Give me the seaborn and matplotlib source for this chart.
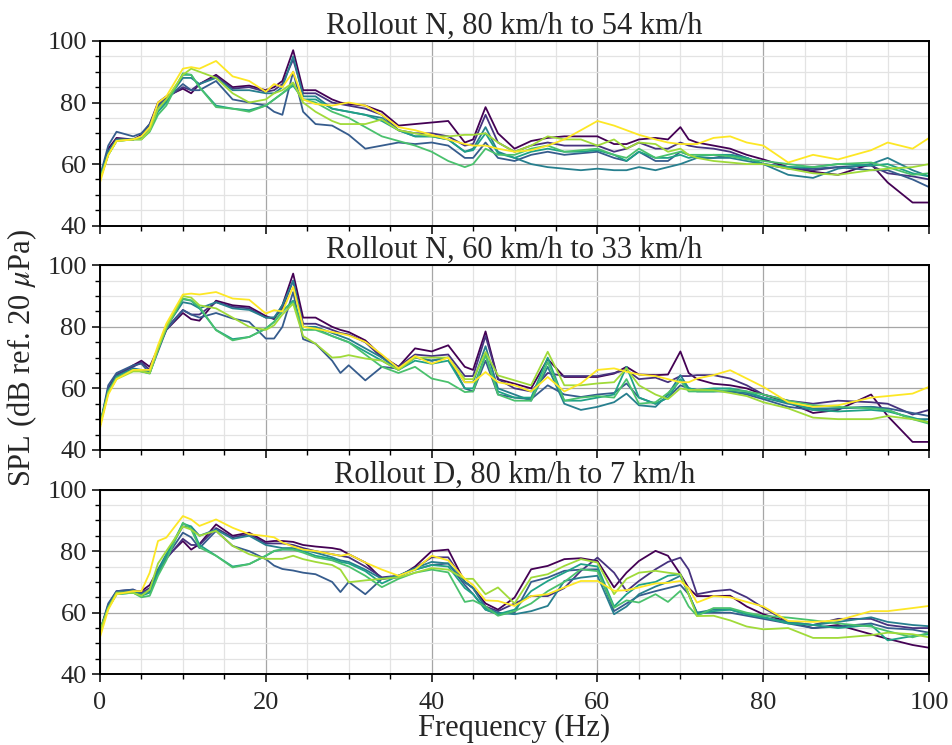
import numpy as np
import pandas as pd
import matplotlib
matplotlib.use("Agg")
import matplotlib.pyplot as plt
import seaborn as sns
from matplotlib.ticker import MultipleLocator

FREQ = [0, 1, 2, 4, 5, 6, 7, 8, 10, 11, 12, 14, 16, 18, 20, 21, 22, 23.3, 24.5, 26,
        28, 29, 30, 32, 34, 36, 38, 40, 42, 44, 45, 46.5, 48, 50, 52, 54, 56, 58, 60,
        62, 63.5, 65, 67, 68.5, 70, 71, 72, 74, 76, 78, 80, 83, 86, 89, 93, 95, 98, 100]

RUNS = ["Run 1", "Run 2", "Run 3", "Run 4", "Run 5", "Run 6", "Run 7", "Run 8"]
TITLES = ["Rollout N, 80 km/h to 54 km/h",
          "Rollout N, 60 km/h to 33 km/h",
          "Rollout D, 80 km/h to 7 km/h"]

# SPL (dB) – Rollout N, 80 -> 54 km/h
N80 = [
    [55, 65, 68.5, 68, 69.5, 73, 80, 82, 84.5, 83, 86, 89, 85, 85.5, 84, 85, 87, 97, 84, 84, 81, 80, 79.5, 79, 77, 72.5, 73, 73.5, 74, 67, 68, 78.5, 70, 65, 67.5, 68.5, 69, 69, 69, 66.5, 66.5, 68, 68.5, 68, 72, 68, 67, 66, 65, 63, 61.5, 59, 57.5, 56.5, 60, 54, 47.5, 47.5],
    [55, 64, 68, 68, 69, 72, 79, 81.5, 85, 84, 86, 88.5, 84.5, 85, 83.5, 84, 86, 94, 83, 83, 80, 79.5, 79, 78, 76, 71, 70, 70, 69, 66, 66.5, 76, 67, 64, 66, 67, 66, 66, 66, 64, 65, 67, 65, 65, 67, 66, 65.5, 65, 64, 62, 60, 58.5, 58, 59, 59.5, 57, 56, 55],
    [56, 66, 70.5, 69, 70, 73, 79, 81, 86, 84, 84, 87, 81, 80, 79, 77, 76, 90, 77, 73, 72.5, 71, 69.5, 65, 66, 67, 66.5, 67, 66, 62, 62, 67, 62, 61, 63, 64, 63, 63.5, 64, 62, 61, 64, 61, 61, 64, 63, 62, 62, 63, 62, 60, 59, 58.5, 59, 58, 58, 55, 52.5],
    [56, 64, 68, 68, 69, 72, 78, 80.5, 88, 88, 86, 88, 84, 84, 83, 83, 85, 95, 82, 82, 78, 77.5, 77, 76, 75, 71, 69, 69, 68, 64, 65, 72, 64, 62, 60, 59, 58.5, 58, 58.5, 58, 58, 59, 58, 59, 60, 61, 62, 62, 62, 61, 60, 56.5, 55.5, 58.5, 60, 62, 58, 56],
    [55, 63, 67.5, 68, 68.5, 71, 77, 80, 89, 89, 85, 79, 78, 77.5, 79, 81, 83, 85.5, 81, 81, 78, 77.5, 77, 76, 74, 71, 69, 69, 68, 64, 64.5, 70, 63.5, 62, 64, 65, 64, 64, 64.5, 63, 61, 64, 62, 62, 63, 62, 62.5, 63, 63, 62, 60, 59, 59, 60, 59.5, 60, 57, 56],
    [55, 63, 67.5, 68, 68, 70.5, 76, 79, 89.5, 89, 85, 78.5, 78, 77, 79, 81, 83, 86, 81, 80, 77, 76, 75, 72, 69, 67.5, 66, 64, 61, 59, 60, 65, 63, 63, 65, 66, 64, 64.5, 65, 63, 62, 65, 62, 63, 64, 63, 63, 63, 62.5, 61.5, 61, 60, 59, 60, 60.5, 59, 56.5, 57],
    [55, 63, 67.5, 68, 68, 71, 78, 81, 89, 91, 90, 88, 83, 80, 81, 83, 84, 86.5, 80, 77, 74, 73, 73, 73, 74.5, 71, 70, 69, 69, 69.5, 69.5, 70, 67, 64, 66, 69, 68, 68, 66, 68, 65, 67, 66.5, 64, 65, 63, 62, 61, 60.5, 60, 60, 58.5, 57, 56.5, 58, 58.5, 59, 60],
    [54, 63, 67.5, 68, 69, 72, 80, 82, 91, 91.5, 91, 93.5, 88.5, 87, 83.5, 86, 85, 90, 81, 79.5, 79, 79.5, 80, 79, 76, 72, 71, 69.5, 68, 66.5, 66, 66, 65, 64, 64.5, 66, 68, 71, 74, 72.5, 71, 69.5, 68, 67, 66.5, 66.5, 66.5, 68.5, 69, 67, 66, 60.5, 63, 61.5, 64.5, 67, 65, 68.5],
]

# SPL (dB) – Rollout N, 60 -> 33 km/h
N60 = [
    [48, 59, 64, 67.5, 69, 67, 73, 79, 84.5, 82.5, 82, 88.5, 87, 86.5, 83.5, 82.5, 87, 97.3, 83, 83, 80, 79, 78.3, 75.6, 70.5, 67, 73, 72, 74, 67, 66, 78.5, 63, 61.5, 60, 69.5, 63.7, 63.7, 63.7, 64.8, 67, 64.5, 64.3, 64.5, 72, 65, 63, 61.5, 61, 60, 58, 55.5, 52, 53, 58, 51, 42.6, 42.6],
    [48, 60, 64.5, 67, 68.5, 66, 73, 79.5, 85.5, 84, 84, 88, 86.5, 86, 83, 83, 86, 95, 81, 81, 79, 78, 77.5, 75, 70, 67, 71, 70.5, 71, 64, 64, 77, 63, 60, 59, 65, 64, 64, 64, 65, 66, 63, 63.5, 62, 64, 64, 64.3, 64.3, 63.2, 61, 58, 56, 55, 56, 55.5, 55, 51.5, 53],
    [48, 61, 65, 67.5, 68, 65, 72, 79, 85.4, 84, 83, 84.5, 82.7, 81.6, 76.2, 76.2, 80, 91.3, 76, 74.5, 69, 65, 67.5, 62.6, 67, 66.4, 70, 69, 70, 60, 59, 69, 58, 57, 56.5, 61, 58, 57.2, 58, 58.5, 61.6, 57, 55, 57, 61, 60, 59.5, 59.5, 59, 58, 56.5, 54, 53, 53.5, 54, 53.5, 52, 51],
    [48, 59, 64, 66.5, 66, 65.5, 73, 80, 88, 87.5, 86, 88, 86, 85.5, 83, 83, 87, 95, 80, 80, 78, 77, 76, 73, 70, 66, 70, 69, 70, 62, 62, 73.7, 60, 58, 56, 67, 55, 53, 54, 55.5, 58.3, 54.5, 54, 58, 64.3, 60, 59, 59, 59, 58.5, 57, 55, 53.5, 53.5, 54, 53, 50, 50],
    [48, 59, 63.5, 66, 65.5, 65, 73, 80, 89, 88.5, 86, 79, 76, 76.7, 79.4, 81.6, 85, 88.5, 80, 79.5, 77, 76, 75, 72, 69, 66, 69, 68, 69, 60, 60, 71, 59, 57, 57, 70, 56, 56, 57, 58, 67, 57, 55, 57, 63, 60, 59.5, 60, 60, 59, 57, 55.5, 53, 52.5, 53, 52.5, 50.5, 49],
    [48, 59, 63.5, 66, 65.5, 64.8, 72.5, 79.5, 89.2, 88.6, 86.5, 78.9, 75.6, 76.7, 79.4, 81.6, 85.4, 88, 79, 79, 77, 76, 75, 71, 67, 65, 67, 63.2, 62, 58.8, 59, 70.8, 58, 56, 56, 68.5, 56, 57, 57.5, 57, 63, 55, 55.5, 58.5, 62.5, 59, 59, 59, 59.5, 59, 58, 56, 54.5, 54, 53.5, 53, 50, 48.5],
    [48, 58.5, 63, 65.5, 65.5, 65, 73, 80, 90, 89.5, 87, 86, 83, 80, 79, 80.5, 84, 87.5, 77, 74.5, 70, 70.2, 70.8, 69.7, 69, 66, 70, 70, 70, 63, 63, 71.8, 64.2, 62.6, 61, 71.9, 61, 61, 61.6, 62, 66.5, 61, 58, 56.5, 60, 59.5, 59.5, 59.4, 58.5, 57.5, 55.5, 53.5, 50.5, 50, 50, 51, 50, 49],
    [47, 58, 63, 66, 66, 66, 74, 81, 90.5, 90.8, 90.5, 91.3, 89.2, 88.8, 84.3, 85.4, 85, 93, 80, 79.4, 78.3, 77.8, 77.2, 75.1, 71, 66.5, 70.5, 68, 70, 62, 62, 65.3, 62, 61, 59, 63.7, 59, 61.6, 66, 66.5, 65.4, 64.5, 64, 63, 62, 62, 63.2, 64.3, 65.9, 63.2, 60.5, 55.5, 54, 54.5, 57, 57.5, 58.3, 60.5],
]

# SPL (dB) – Rollout D, 80 -> 7 km/h
D80 = [
    [54, 62, 66.5, 67, 67, 69, 74, 78, 83.3, 80.5, 82.3, 88.7, 85, 86, 83, 83.3, 83.3, 83, 82, 81.5, 81, 80.5, 79, 76.3, 71, 71.5, 75, 80, 80.5, 70, 68, 63, 61, 64.9, 74.1, 75.2, 77.4, 77.7, 76.8, 68.2, 73, 76.8, 80.1, 78.5, 72.5, 68, 65.4, 65.4, 65.5, 62, 59.5, 57, 55, 56, 53, 51.5, 49.5, 48.6],
    [54, 62.5, 67, 67.5, 66.5, 68, 73, 77.5, 84, 82, 82, 87.5, 84.5, 85.5, 82.5, 82.5, 82.5, 82, 81, 80, 79, 78.5, 78, 75, 71.5, 72, 74.5, 78, 78, 70, 68, 62, 60.5, 63, 65.4, 65.4, 68, 73.6, 77.9, 73, 67, 70.3, 74.1, 76.5, 77.9, 74, 66, 67, 67.5, 65, 61.6, 57, 56, 58, 58, 56, 55, 55],
    [54, 63, 67, 67.5, 66, 67, 73, 78, 86, 84.5, 81, 86.6, 81.7, 80, 77.4, 75.3, 74.2, 73.7, 73, 72.5, 70, 66.7, 70, 66, 71, 72, 74, 75.5, 76, 69, 66, 61, 59.5, 60, 70, 71.4, 73.6, 74, 74.1, 60.5, 63, 65.5, 67, 68, 69, 66, 60, 60, 60, 59, 58, 56.5, 55, 55.5, 56.5, 55, 54.5, 53.5],
    [54, 62, 66.5, 67, 66, 67.5, 74, 79, 88, 88, 85, 87, 84, 85, 82, 81.5, 81, 81, 80.5, 79.5, 78, 77, 76.5, 74, 71, 72, 74.5, 76.5, 76, 70, 68, 61.5, 60, 59.5, 60.5, 62.2, 70.3, 71.4, 72, 59.5, 62, 66, 68.5, 70, 72, 66, 60, 61, 61, 59.5, 58.5, 57, 56, 57, 58.5, 57, 56, 55.6],
    [54, 61.5, 66, 66.5, 65.5, 66.5, 73, 78.5, 89, 88, 82, 78.5, 75, 75.8, 78.5, 80, 80.5, 80.5, 80, 78.5, 77.5, 76.5, 76, 73.5, 69.5, 72, 74, 75.5, 75, 68, 66, 61, 59.5, 61, 67, 70.3, 73, 75.8, 75, 62, 66, 69, 70, 72, 72.5, 66, 59.5, 60.5, 61, 59.5, 58.5, 56.5, 56, 55, 56, 51, 52.4, 53],
    [54, 61.5, 66, 66.5, 65, 65.5, 72, 77, 89.2, 87.1, 81.2, 78.5, 74.7, 75.8, 78.5, 80.1, 80.6, 80.5, 79.5, 78, 77, 76, 75, 72, 68.3, 71, 73, 74, 73.1, 63.5, 64, 62, 59, 60.5, 63, 67, 70, 74.1, 73.5, 61.6, 64, 63.3, 66, 63.5, 67.1, 62, 59, 61.5, 61.5, 60, 59, 58.4, 57.5, 56.5, 55.5, 54, 52, 53.5],
    [54, 61.5, 66.5, 66.5, 65.5, 67.5, 76, 80, 88, 87, 85, 86.6, 81.7, 79, 77.5, 77.5, 77.5, 78.5, 77.4, 76.5, 75.5, 74, 69.9, 70.5, 71, 71.5, 73, 74.5, 74, 71, 71, 66, 68.2, 63, 71.4, 72.5, 75.2, 77.4, 76.3, 66, 71, 73, 73.6, 73, 72.5, 66, 58.9, 59, 57.5, 55.5, 54.6, 55, 51.8, 51.8, 52.7, 53.5, 53, 52],
    [52, 61, 66, 67, 67, 73, 83.3, 84.4, 91.4, 90.3, 88.2, 90.3, 87.6, 85.5, 84.9, 84.5, 82.8, 81.5, 80.5, 80, 79, 78.5, 79, 76.3, 74, 72, 74, 78.5, 77, 71, 69, 64, 63.8, 62.2, 65.4, 66, 68.2, 70.3, 70.3, 67.1, 67.3, 68.2, 69.5, 69.7, 70.3, 68, 63.3, 65.4, 65, 63.5, 62, 57.3, 57, 57.5, 60.5, 60.5, 61.5, 62.2],
]

sns.set_theme(style="ticks")
plt.rcParams["font.family"] = ["Liberation Serif", "DejaVu Serif"]
plt.rcParams["mathtext.fontset"] = "stix"

colors = [matplotlib.colors.to_hex(c) for c in plt.get_cmap("viridis")(np.linspace(0, 1, 8))]
FS_TICK = 19
FS_LABEL = 22

fig, axes = plt.subplots(3, 1, figsize=(9.52, 7.45), dpi=100, sharex=True)
fig.subplots_adjust(left=0.105, right=0.976, top=0.945, bottom=0.095, hspace=0.215)

for ax, title, panel in zip(axes, TITLES, [N80, N60, D80]):
    rows = []
    for run, vals in zip(RUNS, panel):
        for f, v in zip(FREQ, vals):
            rows.append({"freq": f, "spl": v, "run": run})
    df = pd.DataFrame(rows)
    sns.lineplot(data=df, x="freq", y="spl", hue="run", palette=colors,
                 legend=False, linewidth=1.3, ax=ax)
    ax.set_xlim(0, 100)
    ax.set_ylim(40, 100)
    ax.xaxis.set_major_locator(MultipleLocator(20))
    ax.xaxis.set_minor_locator(MultipleLocator(5))
    ax.yaxis.set_major_locator(MultipleLocator(20))
    ax.yaxis.set_minor_locator(MultipleLocator(5))
    ax.set_axisbelow(True)
    ax.grid(which="major", color="#a6a6a6", linewidth=0.9)
    ax.grid(which="minor", color="#e3e3e3", linewidth=0.9)
    ax.tick_params(which="major", direction="out", length=6, width=1.1,
                   labelsize=FS_TICK, color="black")
    ax.tick_params(which="minor", direction="out", length=3.5, width=1.0, color="black")
    ax.tick_params(axis="x", which="major", pad=7)
    for s in ax.spines.values():
        s.set_color("black")
        s.set_linewidth(1.4)
    ax.set_title(title, fontsize=FS_LABEL, pad=3)
    ax.set_xlabel("")
    ax.set_ylabel("")

axes[1].set_ylabel("SPL (dB ref. 20 $\\mu$Pa)", fontsize=FS_LABEL, labelpad=6)
axes[2].set_xlabel("Frequency (Hz)", fontsize=FS_LABEL, labelpad=0)

fig.savefig("out.png", dpi=100)
